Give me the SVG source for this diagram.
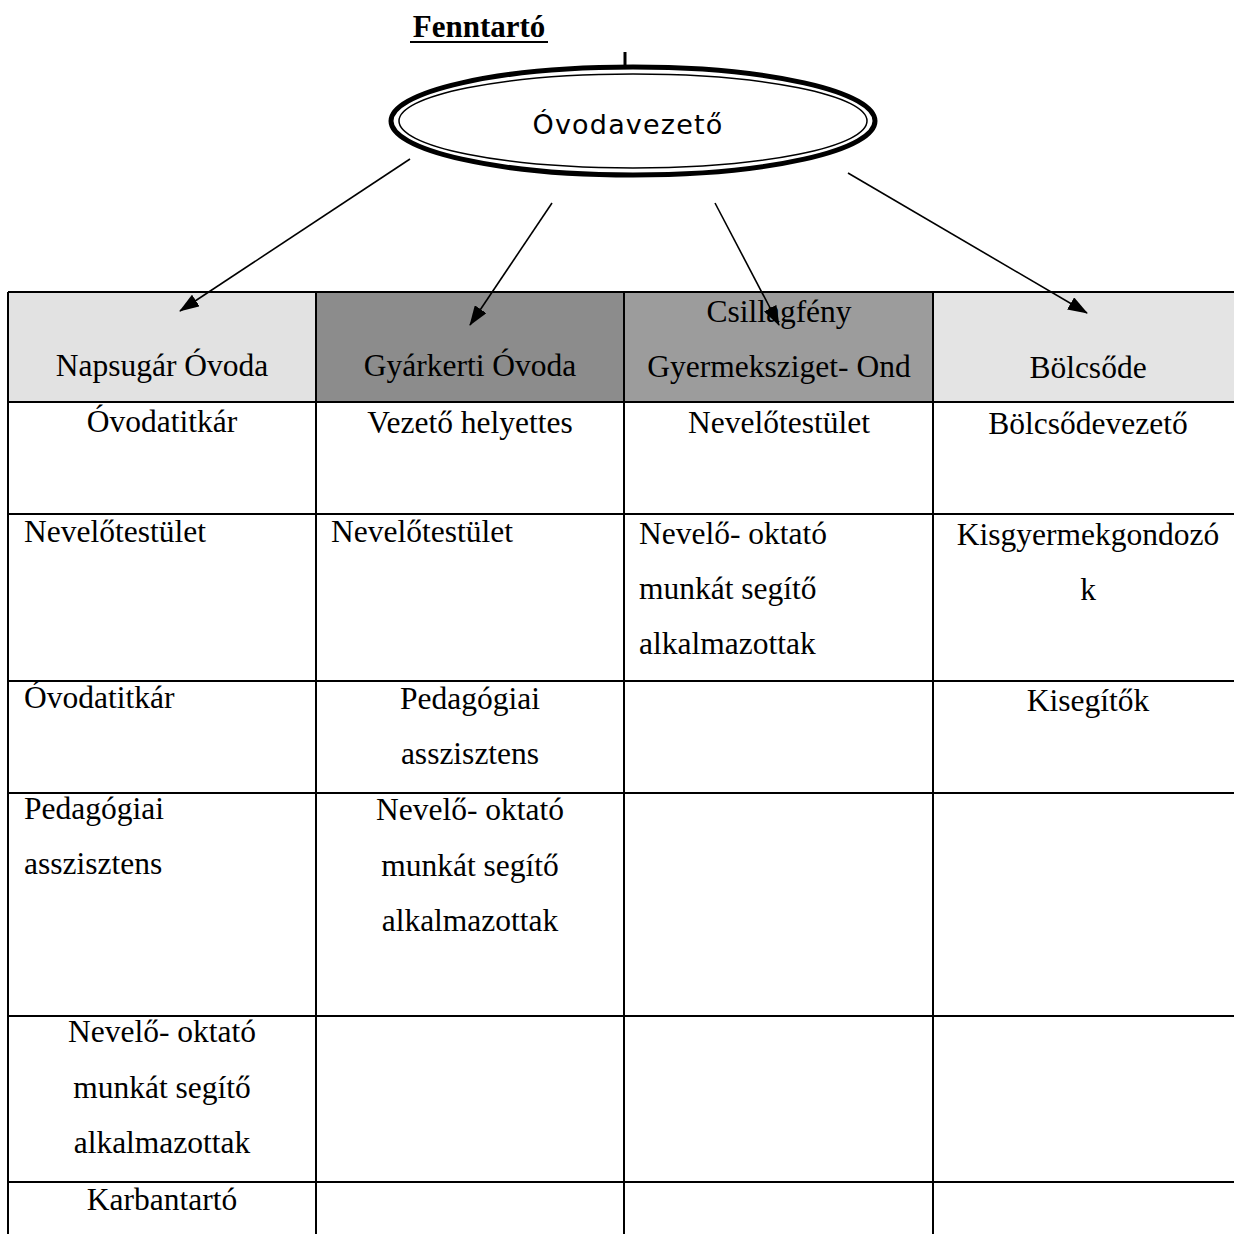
<svg xmlns="http://www.w3.org/2000/svg" width="1234" height="1234" viewBox="0 0 1234 1234">
<defs>
<style>
.t{font-family:"Liberation Serif","Times New Roman",serif;font-size:31.5px;fill:#000}
.c{text-anchor:middle}
.g{stroke:#000;stroke-width:2;fill:none}
.a{stroke:#000;stroke-width:1.6;fill:none;marker-end:url(#ah)}
</style>
<marker id="ah" viewBox="0 0 20 14" refX="19" refY="7" markerWidth="20" markerHeight="14" markerUnits="userSpaceOnUse" orient="auto">
<path d="M0,0 L20,7 L0,14 z" fill="#000"/>
</marker>
</defs>
<rect width="1234" height="1234" fill="#fff"/>

<g id="title">
<text x="479" y="37" class="t c" style="font-weight:bold;font-size:31px">Fenntartó</text>
<line x1="410" y1="42" x2="548" y2="42" stroke="#000" stroke-width="2"/>
</g>

<g id="ovodavezeto">
<line x1="625" y1="52" x2="625" y2="76" stroke="#000" stroke-width="3"/>
<ellipse cx="633" cy="121" rx="242" ry="54" fill="#fff" stroke="#000" stroke-width="5"/>
<ellipse cx="633" cy="121" rx="234" ry="47" fill="none" stroke="#000" stroke-width="1.5"/>
<text x="628" y="134" text-anchor="middle" style="font-family:'DejaVu Sans',Verdana,sans-serif;font-size:27px;letter-spacing:1.2px">Óvodavezető</text>
</g>

<g id="header">
<rect x="8" y="292" width="308" height="110" fill="#e2e2e2"/>
<rect x="316" y="292" width="308" height="110" fill="#8c8c8c"/>
<rect x="624" y="292" width="309" height="110" fill="#9c9c9c"/>
<rect x="933" y="292" width="301" height="110" fill="#e4e4e4"/>
<text x="162" y="376" class="t c">Napsugár Óvoda</text>
<text x="470" y="376" class="t c">Gyárkerti Óvoda</text>
<text x="779" y="322" class="t c">Csillagfény</text>
<text x="779" y="377" class="t c">Gyermeksziget- Ond</text>
<text x="1088" y="378" class="t c">Bölcsőde</text>
</g>

<g id="grid">
<line class="g" x1="8" y1="292" x2="1234" y2="292"/>
<line class="g" x1="8" y1="402" x2="1234" y2="402"/>
<line class="g" x1="8" y1="514" x2="1234" y2="514"/>
<line class="g" x1="8" y1="681" x2="1234" y2="681"/>
<line class="g" x1="8" y1="793" x2="1234" y2="793"/>
<line class="g" x1="8" y1="1016" x2="1234" y2="1016"/>
<line class="g" x1="8" y1="1182" x2="1234" y2="1182"/>
<line class="g" x1="8" y1="292" x2="8" y2="1234"/>
<line class="g" x1="316" y1="292" x2="316" y2="1234"/>
<line class="g" x1="624" y1="292" x2="624" y2="1234"/>
<line class="g" x1="933" y1="292" x2="933" y2="1234"/>
</g>

<g id="col1">
<text x="162" y="432" class="t c">Óvodatitkár</text>
<text x="24" y="542" class="t">Nevelőtestület</text>
<text x="24" y="708" class="t">Óvodatitkár</text>
<text x="24" y="819" class="t">Pedagógiai</text>
<text x="24" y="874" class="t">asszisztens</text>
<text x="162" y="1042" class="t c">Nevelő- oktató</text>
<text x="162" y="1098" class="t c">munkát segítő</text>
<text x="162" y="1153" class="t c">alkalmazottak</text>
<text x="162" y="1210" class="t c">Karbantartó</text>
</g>

<g id="col2">
<text x="470" y="433" class="t c">Vezető helyettes</text>
<text x="331" y="542" class="t">Nevelőtestület</text>
<text x="470" y="709" class="t c">Pedagógiai</text>
<text x="470" y="764" class="t c">asszisztens</text>
<text x="470" y="820" class="t c">Nevelő- oktató</text>
<text x="470" y="876" class="t c">munkát segítő</text>
<text x="470" y="931" class="t c">alkalmazottak</text>
</g>

<g id="col3">
<text x="779" y="433" class="t c">Nevelőtestület</text>
<text x="639" y="544" class="t">Nevelő- oktató</text>
<text x="639" y="599" class="t">munkát segítő</text>
<text x="639" y="654" class="t">alkalmazottak</text>
</g>

<g id="col4">
<text x="1088" y="434" class="t c">Bölcsődevezető</text>
<text x="1088" y="545" class="t c">Kisgyermekgondozó</text>
<text x="1088" y="600" class="t c">k</text>
<text x="1088" y="711" class="t c">Kisegítők</text>
</g>

<g id="connectors">
<line class="a" x1="410" y1="159" x2="180" y2="311"/>
<line class="a" x1="552" y1="203" x2="470" y2="325"/>
<line class="a" x1="715" y1="203" x2="779" y2="325"/>
<line class="a" x1="848" y1="173" x2="1087" y2="313"/>
</g>
</svg>
